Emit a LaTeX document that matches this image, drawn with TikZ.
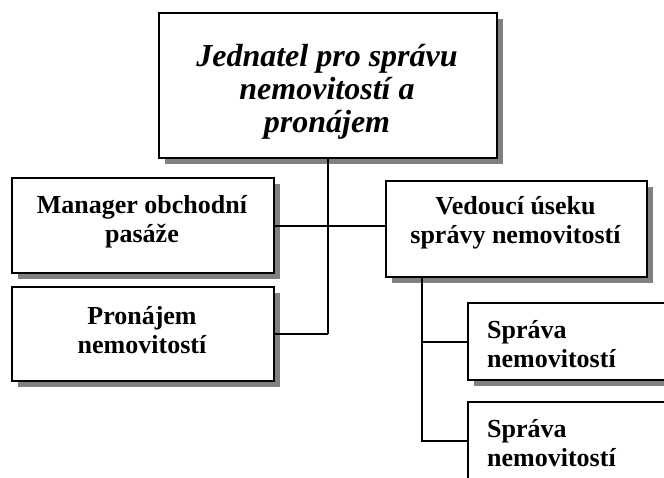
\documentclass[tikz,border=0pt]{standalone}
\usepackage{fontspec}
\setmainfont{Liberation Serif}
\usetikzlibrary{shadows}
\begin{document}
\begin{tikzpicture}[x=1pt,y=-1pt,
  orgbox/.style={draw=black, line width=2pt, fill=white, rectangle, inner sep=0pt,
    anchor=north west,
    drop shadow={shadow xshift=6pt, shadow yshift=-6pt, fill=black!50, opacity=1}},
  wire/.style={draw=black, line width=2pt},
  boxtext/.style={font=\fontsize{26}{29}\selectfont\bfseries, inner sep=0pt,
    align=center, anchor=base},
  headtext/.style={font=\fontsize{32}{33}\selectfont\bfseries\itshape, inner sep=0pt,
    align=center, anchor=base},
]
\useasboundingbox (0,0) rectangle (664,477);
\clip (0,0) rectangle (664,477);

% boxes
\node[orgbox, minimum width=338pt, minimum height=145pt] (head) at (158,12) {};
\node[orgbox, minimum width=262pt, minimum height=95pt] (mgr) at (11,177) {};
\node[orgbox, minimum width=262pt, minimum height=94pt] (pron) at (11,286) {};
\node[orgbox, minimum width=261pt, minimum height=96pt] (ved) at (385,180) {};
\node[orgbox, minimum width=260pt, minimum height=77pt] (spr1) at (467,302) {};
\node[orgbox, minimum width=260pt, minimum height=77pt] (spr2) at (467,401) {};

% connectors
\coordinate (vedfoot) at ([xshift=37pt]ved.south west);
\draw[wire] (head.south) -- (head.south |- pron.east);
\draw[wire] (mgr.east) -- (mgr.east -| ved.west);
\draw[wire] (pron.east) -- (pron.east -| head.south);
\draw[wire] (vedfoot) |- (spr1.west);
\draw[wire] (vedfoot) |- (spr2.west);

% labels (anchored on the baseline of the last line)
\node[headtext] (headT) at (327,132) {Jednatel pro správu\\nemovitostí a\\pronájem};
\node[boxtext] (mgrT) at (142,242) {Manager obchodní\\pasáže};
\node[boxtext] (pronT) at (142,353) {Pronájem\\nemovitostí};
\node[boxtext] (vedT) at (515.5,243) {Vedoucí úseku\\správy nemovitostí};
\node[boxtext, align=left, anchor=base west] (spr1T) at (487,367) {Správa\\nemovitostí};
\node[boxtext, align=left, anchor=base west] (spr2T) at (487,466) {Správa\\nemovitostí};
\end{tikzpicture}
\end{document}
